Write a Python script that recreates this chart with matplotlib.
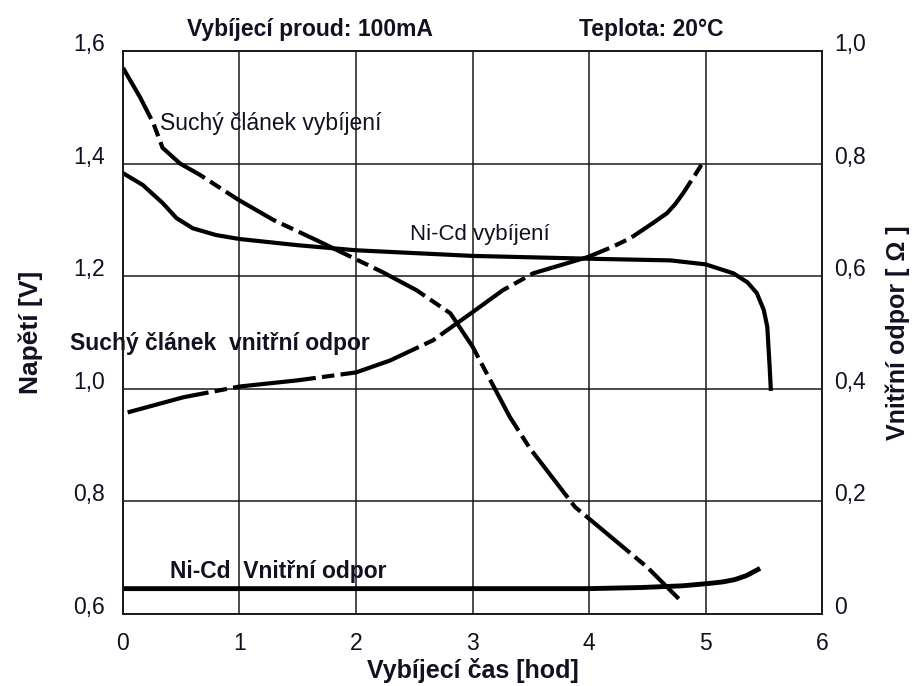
import matplotlib.pyplot as plt

# Suchý článek - vybíjení (napětí, levá osa)
dry_t = [0, 0.146, 0.26, 0.34, 0.49, 0.66, 0.98, 1.29, 1.66, 1.89, 2.23, 2.52, 2.81,
         3.0, 3.32, 3.49, 3.88, 4.5, 4.77]
dry_v = [1.57, 1.518, 1.472, 1.428, 1.40, 1.38, 1.337, 1.30, 1.264, 1.241, 1.207, 1.175, 1.134,
         1.075, 0.95, 0.895, 0.79, 0.683, 0.627]

# Ni-Cd - vybíjení (napětí, levá osa)
nicd_t = [0, 0.17, 0.34, 0.46, 0.6, 0.8, 1.0, 1.5, 2.0, 3.0, 4.0, 4.7, 5.0, 5.24, 5.36,
          5.44, 5.5, 5.53, 5.55, 5.56]
nicd_v = [1.383, 1.362, 1.33, 1.303, 1.285, 1.273, 1.266, 1.255, 1.246, 1.236, 1.231, 1.228,
          1.221, 1.205, 1.189, 1.17, 1.14, 1.11, 1.04, 1.0]

# Suchý článek - vnitřní odpor (pravá osa)
dry_r_t = [0.04, 0.52, 1.0, 1.5, 2.0, 2.29, 2.66, 3.0, 3.26, 3.52, 3.99, 4.2, 4.35, 4.46,
           4.56, 4.67, 4.74, 4.81, 4.86, 4.92, 4.98]
dry_r = [0.358, 0.385, 0.404, 0.415, 0.429, 0.45, 0.486, 0.536, 0.575, 0.605, 0.634, 0.652,
         0.667, 0.682, 0.696, 0.712, 0.728, 0.748, 0.764, 0.783, 0.803]

# Ni-Cd - vnitřní odpor (pravá osa)
nicd_r_t = [0, 1, 2, 3, 4, 4.45, 4.8, 5.02, 5.15, 5.25, 5.35, 5.45]
nicd_r = [0.045, 0.045, 0.045, 0.045, 0.045, 0.047, 0.05, 0.054, 0.057, 0.061, 0.068, 0.079]

x_ticks = [0, 1, 2, 3, 4, 5, 6]
v_ticks = [0.6, 0.8, 1.0, 1.2, 1.4, 1.6]
v_labels = ['0,6', '0,8', '1,0', '1,2', '1,4', '1,6']
r_ticks = [0, 0.2, 0.4, 0.6, 0.8, 1.0]
r_labels = ['0', '0,2', '0,4', '0,6', '0,8', '1,0']

plt.rcParams['font.family'] = ['Liberation Sans', 'DejaVu Sans']
txt = '#111122'

fig = plt.figure(figsize=(9.15, 6.86), dpi=100)
ax = fig.add_axes([0.1344, 0.105, 0.764, 0.8207])
ax2 = ax.twinx()

ax.set_xlim(0, 6)
ax.set_ylim(0.6, 1.6)
ax2.set_ylim(0, 1.0)

ax.set_xticks(x_ticks)
ax.set_xticklabels([str(t) for t in x_ticks])
ax.set_yticks(v_ticks)
ax.set_yticklabels(v_labels, va='baseline')
ax2.set_yticks(r_ticks)
ax2.set_yticklabels(r_labels, va='baseline')

ax.tick_params(axis='both', length=0, labelsize=16.5, labelcolor=txt)
ax.tick_params(axis='x', pad=13)
ax.tick_params(axis='y', pad=13)
ax2.tick_params(axis='y', length=0, labelsize=16.5, labelcolor=txt, pad=9)

ax.grid(True, color='#1a1a1a', linewidth=1.1)
for a in (ax, ax2):
    for s in a.spines.values():
        s.set_color('#1a1a1a')
        s.set_linewidth(1.2)

dash = (0, (14, 1.5, 3, 1.5))
ax.plot(dry_t, dry_v, color='black', lw=3, linestyle=dash)
ax.plot(nicd_t, nicd_v, color='black', lw=3)
ax2.plot(dry_r_t, dry_r, color='black', lw=3, linestyle=(0, (20, 1.5, 3, 1.5)))
ax2.plot(nicd_r_t, nicd_r, color='black', lw=3.5)

ax.text(0.32, 1.46, 'Suchý článek vybíjení', fontsize=16.5, color=txt, va='baseline')
ax.text(2.46, 1.265, 'Ni-Cd vybíjení', fontsize=16, color=txt, va='baseline')
ax.text(-0.455, 1.068, 'Suchý článek  vnitřní odpor', fontsize=16.5, fontweight='bold',
        color=txt, va='baseline')
ax.text(0.40, 0.664, 'Ni-Cd  Vnitřní odpor', fontsize=16.5, fontweight='bold',
        color=txt, va='baseline')

fig.text(187 / 915, 1 - 36 / 686, 'Vybíjecí proud: 100mA', fontsize=16.5, fontweight='bold',
         color=txt, va='baseline')
fig.text(579 / 915, 1 - 36 / 686, 'Teplota: 20°C', fontsize=16.5, fontweight='bold',
         color=txt, va='baseline')

ax.set_xlabel('Vybíjecí čas [hod]', fontsize=18, fontweight='bold', color=txt, labelpad=2)
ax.set_ylabel('Napětí [V]', fontsize=19, fontweight='bold', color=txt, labelpad=22)
ax2.set_ylabel('Vnitřní odpor [ Ω ]', fontsize=18, fontweight='bold', color=txt,
               rotation=90, labelpad=14)

fig.savefig('out.png', dpi=100)
